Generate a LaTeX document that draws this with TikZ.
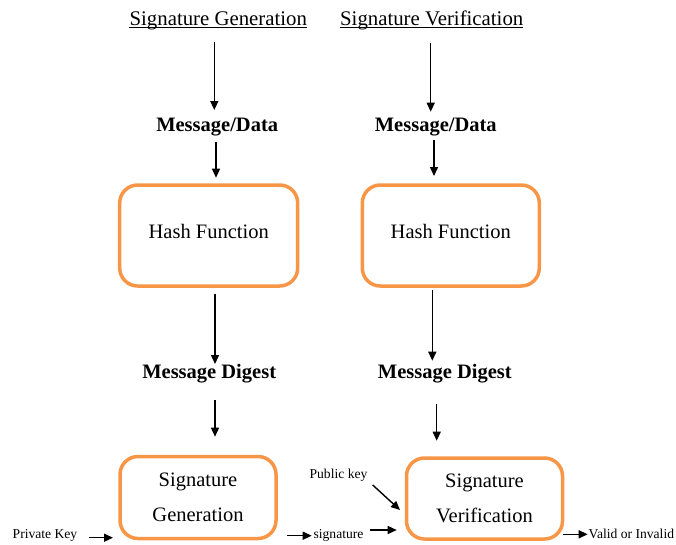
\documentclass[tikz,border=0pt]{standalone}
\usepackage{fontspec}
\setmainfont{Liberation Serif}
\usetikzlibrary{arrows.meta}
\definecolor{boxorange}{HTML}{F79646}
\begin{document}
\begin{tikzpicture}[x=1pt,y=-1pt,
  big/.style={font=\rmfamily\fontsize{20.8}{35}\selectfont, inner sep=0pt},
  bigb/.style={font=\rmfamily\fontsize{20.5}{24}\selectfont\bfseries, inner sep=0pt},
  small/.style={font=\rmfamily\fontsize{13.6}{16}\selectfont, inner sep=0pt},
  obox/.style={draw=boxorange, line width=3.5pt, rounded corners=18pt, inner sep=0pt, align=center,
    font=\rmfamily\fontsize{20.5}{35}\selectfont},
  uline/.style={line width=1.1pt, black},
  arr/.style={-{Triangle[length=9pt,width=8pt]}, line width=1.4pt, black}]
\useasboundingbox (0,0) rectangle (676,544);
% titles
\node[big, anchor=base] (t1) at (218.3,25) {Signature Generation};
\node[big, anchor=base] (t2) at (431.7,25) {Signature Verification};
\draw[uline] ([yshift=-2.5pt]t1.base west) -- ([yshift=-2.5pt]t1.base east);
\draw[uline] ([yshift=-2.5pt]t2.base west) -- ([yshift=-2.5pt]t2.base east);
% message/data
\node[bigb] (m1) at (217.2,126.7) {Message/Data};
\node[bigb] (m2) at (435.8,126.7) {Message/Data};
% hash boxes
\node[obox, minimum width=178pt, minimum height=101pt, text depth=9pt] (h1) at (208.7,235.5) {Hash Function};
\node[obox, minimum width=177pt, minimum height=101pt, text depth=9pt] (h2) at (450.8,235.5) {Hash Function};
% message digest
\node[bigb] (d1) at (209.2,373.3) {Message Digest};
\node[bigb] (d2) at (444.8,373.3) {Message Digest};
% signature boxes
\node[obox, minimum width=156pt, minimum height=82pt] (g) at (198,497.5) {Signature\\Generation};
\node[obox, minimum width=156pt, minimum height=81pt] (v) at (484.5,498.5) {Signature\\Verification};
% small labels
\node[small] (pk) at (45,535) {Private Key};
\node[small] (pub) at (338.5,475) {Public key};
\node[small] (sg) at (338.5,535) {signature};
\node[small] (vi) at (631.4,534.3) {Valid or Invalid};
% arrow end coordinates
\coordinate (a1s) at (214.3,41.7); \coordinate (a1e) at (214.3,110);
\coordinate (a2s) at (430.7,42.7); \coordinate (a2e) at (430.7,111.7);
\coordinate (a3s) at (216,141.7);  \coordinate (a3e) at (216,177.7);
\coordinate (a4s) at (434,140);    \coordinate (a4e) at (434,176);
\coordinate (a5s) at (215,294);    \coordinate (a5e) at (215,364);
\coordinate (a6s) at (432.3,290);  \coordinate (a6e) at (432.3,360.7);
\coordinate (a7s) at (215,400);    \coordinate (a7e) at (215,436.7);
\coordinate (a8s) at (436.7,404);  \coordinate (a8e) at (436.7,440.7);
\coordinate (pks) at (89,537.7);   \coordinate (pke) at (113,537.7);
\coordinate (gs) at (286.7,535.7); \coordinate (ge) at (311.7,535.7);
\coordinate (ss) at (370,530);     \coordinate (se) at (396.7,530);
\coordinate (ps) at (372.7,485);   \coordinate (pe) at (400,510);
\coordinate (vs) at (563.3,534.3); \coordinate (ve) at (587.7,534.3);
% arrows
\draw[arr] (a1s) -- (a1e);
\draw[arr] (a2s) -- (a2e);
\draw[arr] (a3s) -- (a3e);
\draw[arr] (a4s) -- (a4e);
\draw[arr] (a5s) -- (a5e);
\draw[arr] (a6s) -- (a6e);
\draw[arr] (a7s) -- (a7e);
\draw[arr] (a8s) -- (a8e);
\draw[arr] (pks) -- (pke);
\draw[arr] (gs) -- (ge);
\draw[arr] (ss) -- (se);
\draw[arr] (ps) -- (pe);
\draw[arr] (vs) -- (ve);
\end{tikzpicture}
\end{document}
